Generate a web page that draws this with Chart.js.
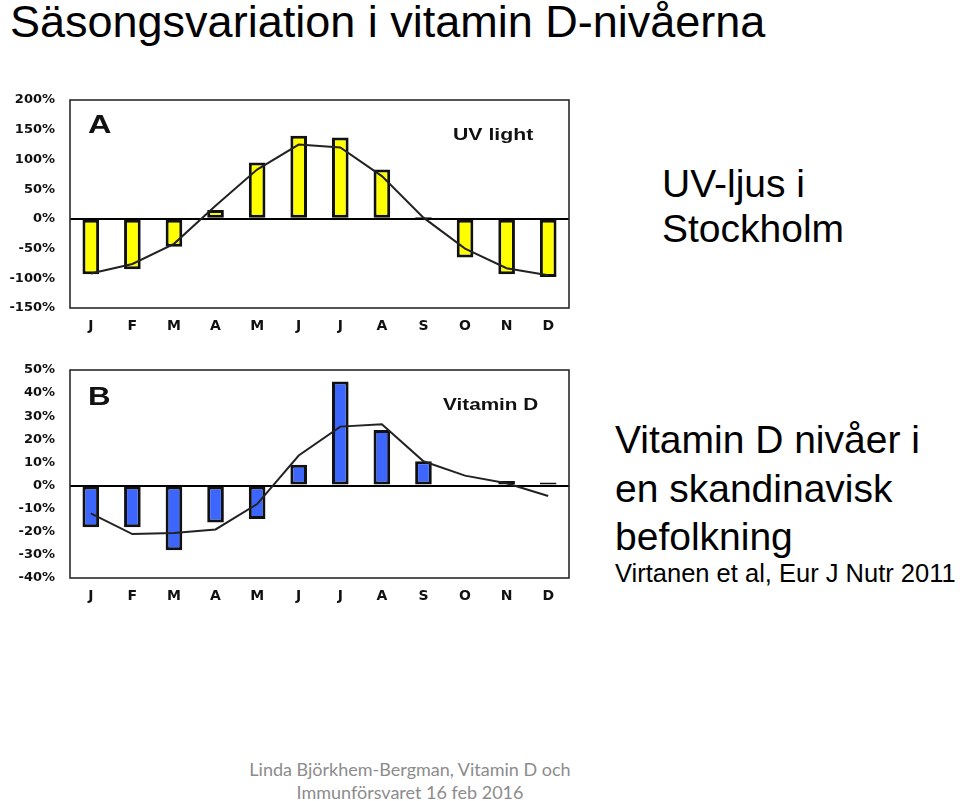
<!DOCTYPE html>
<html>
<head>
<meta charset="utf-8">
<script src="https://cdn.jsdelivr.net/npm/chart.js@4/dist/chart.umd.min.js"></script>
<style>
  html, body { margin: 0; padding: 0; background: #fff; }
  body { width: 960px; height: 801px; position: relative; overflow: hidden; font-family: "Liberation Sans", Arial, sans-serif; color: #000; }
  .t { position: absolute; white-space: nowrap; }
  .big { font-size: 39px; line-height: 39px; }
  .lbl { font-weight: bold; transform-origin: 0 0; color: #111; }
  canvas { position: absolute; left: 0; }
</style>
</head>
<body>
<div class="t" style="left:10px;top:-1px;font-size:45px;line-height:45px;">Säsongsvariation i vitamin D-nivåerna</div>

<canvas id="chartA" width="580" height="255" style="top:85px;"></canvas>
<canvas id="chartB" width="580" height="255" style="top:355px;"></canvas>

<div class="t lbl" style="left:88px;top:112px;font-size:25px;line-height:25px;transform:scaleX(1.3);">A</div>
<div class="t lbl" style="left:453px;top:126px;font-size:17px;line-height:17px;transform:scaleX(1.25);">UV light</div>
<div class="t lbl" style="left:88px;top:384px;font-size:25px;line-height:25px;transform:scaleX(1.25);">B</div>
<div class="t lbl" style="left:443px;top:396px;font-size:17px;line-height:17px;transform:scaleX(1.22);">Vitamin D</div>

<div class="t big" style="left:662px;top:164px;">UV-ljus i</div>
<div class="t big" style="left:662px;top:209px;">Stockholm</div>
<div class="t big" style="left:615px;top:420px;">Vitamin D nivåer i</div>
<div class="t big" style="left:615px;top:469px;">en skandinavisk</div>
<div class="t big" style="left:615px;top:517px;">befolkning</div>
<div class="t" style="left:615px;top:561px;font-size:25.5px;line-height:25.5px;">Virtanen et al, Eur J Nutr 2011</div>

<div class="t" style="left:210px;top:758px;width:400px;text-align:center;font-family:Lato,'Open Sans',sans-serif;font-size:18px;line-height:23px;color:#8c8c8c;">Linda Björkhem-Bergman, Vitamin D och<br>Immunförsvaret 16 feb 2016</div>

<script>
const months = ['J','F','M','A','M','J','J','A','S','O','N','D'];

// Panel A: UV light in Stockholm (% deviation from annual mean)
const uvBars  = [-93, -85, -47, 15, 95, 140, 137, 83, 3, -65, -93, -98];
const uvTrend = [-92, -76, -42, 22, 83, 125, 120, 72, 2, -50, -83, -95];
const uvTicks = { min: -150, max: 200, step: 50 };

// Panel B: Vitamin D levels (% deviation from annual mean)
const vitdBars  = [-18, -18, -28, -16, -14.5, 9, 45, 24, 10.5, null, 2, 1.3];
const vitdTrend = [-12, -21, -20.5, -19, -8, 13, 25.5, 26.5, 10.5, 4.3, 1, -4.5];
const vitdTicks = { min: -40, max: 50, step: 10 };

const frame = {
  id: 'frame',
  afterDatasetsDraw(chart) {
    const a = chart.chartArea, c = chart.ctx;
    c.save();
    c.strokeStyle = '#2a2a2a';
    c.lineWidth = 1.6;
    c.strokeRect(a.left, a.top, a.right - a.left, a.bottom - a.top);
    c.restore();
  }
};

function makeChart(id, bars, trend, ticks, color) {
  return new Chart(document.getElementById(id), {
    data: {
      labels: months,
      datasets: [
        { type: 'line', data: trend, borderColor: '#222', borderWidth: 2,
          pointRadius: 0, tension: 0, order: 0, fill: false },
        { type: 'bar', data: bars, backgroundColor: color, borderColor: '#111',
          borderWidth: 3, borderSkipped: false, barPercentage: 0.4,
          categoryPercentage: 1, order: 1 }
      ]
    },
    options: {
      responsive: false,
      devicePixelRatio: 1,
      animation: false,
      layout: { padding: { top: 15, right: 11, left: 0, bottom: 0 } },
      plugins: { legend: { display: false }, tooltip: { enabled: false } },
      scales: {
        x: {
          grid: { display: false },
          border: { display: false },
          ticks: { color: '#111', padding: 2, maxRotation: 0, autoSkip: false,
                   font: { family: 'DejaVu Sans', size: 14, weight: 'bold' } },
          afterFit(s) { s.height = 32; }
        },
        y: {
          min: ticks.min, max: ticks.max,
          border: { display: false },
          grid: {
            drawTicks: false,
            color: (ctx) => ctx.tick && ctx.tick.value === 0 ? '#000' : 'rgba(0,0,0,0)',
            lineWidth: 2
          },
          ticks: { stepSize: ticks.step, color: '#111', padding: 15,
                   font: { family: 'DejaVu Sans', size: 13, weight: 'bold' },
                   callback: (v) => v + '%' },
          afterFit(s) { s.width = 70; s.paddingTop = 0; s.paddingBottom = 0; }
        }
      }
    },
    plugins: [frame]
  });
}

makeChart('chartA', uvBars, uvTrend, uvTicks, '#ffff00');
makeChart('chartB', vitdBars, vitdTrend, vitdTicks, '#3d66ff');
</script>
</body>
</html>
